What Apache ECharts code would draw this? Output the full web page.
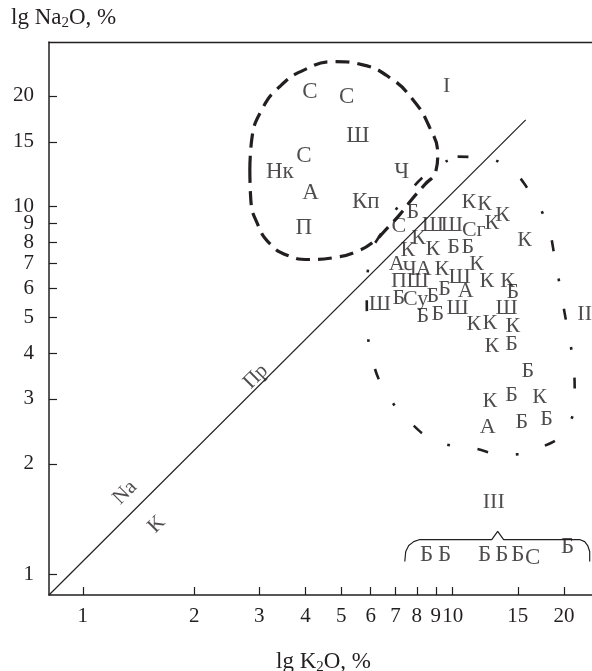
<!DOCTYPE html>
<html><head><meta charset="utf-8">
<script src="https://cdn.jsdelivr.net/npm/echarts@6/dist/echarts.min.js"></script>
<style>html,body{margin:0;padding:0;background:#fff}#c{width:592px;height:671px}</style>
</head><body><div id="c"></div>
<script>
// Tick values (log axes)
const xTicks = [1, 2, 3, 4, 5, 6, 7, 8, 9, 10, 15, 20];
const yTicks = [1, 2, 3, 4, 5, 6, 7, 8, 9, 10, 15, 20];

// [K2O %, Na2O %, code]
const groupI = [
  [4.11, 20.5, 'С'], [5.17, 19.8, 'С'], [5.54, 15.6, 'Ш'], [3.96, 13.7, 'С'],
  [3.41, 12.4, 'Нк'], [4.13, 10.9, 'А'], [5.82, 10.3, 'Кп'], [3.96, 8.77, 'П'],
  [7.28, 12.4, 'Ч']
];
const groupII = [
  [7.80, 9.63, 'Б'], [7.15, 8.83, 'С'], [8.83, 8.88, 'Ш'], [9.94, 8.88, 'Ш'],
  [11.40, 8.61, 'Сг'], [8.09, 8.18, 'К'], [7.56, 7.60, 'К'], [8.83, 7.64, 'К'],
  [10.06, 7.74, 'Б'], [10.98, 7.74, 'Б'], [7.06, 6.96, 'А'], [7.65, 6.74, 'Ч'],
  [8.35, 6.74, 'А'], [9.34, 6.74, 'К'], [11.61, 6.96, 'К'], [7.15, 6.26, 'П'],
  [8.04, 6.26, 'Ш'], [10.44, 6.41, 'Ш'], [9.51, 5.95, 'Б'], [10.84, 5.88, 'А'],
  [12.36, 6.26, 'К'], [14.08, 6.26, 'К'], [14.53, 5.84, 'Б'], [6.35, 5.42, 'Ш'],
  [7.15, 5.62, 'Б'], [7.94, 5.59, 'Су'], [8.83, 5.69, 'Б'], [8.30, 5.02, 'Б'],
  [9.11, 5.09, 'Б'], [10.31, 5.31, 'Ш'], [13.99, 5.28, 'Ш'], [11.40, 4.78, 'К'],
  [12.59, 4.81, 'К'], [14.53, 4.72, 'К'], [12.75, 4.17, 'К'], [14.43, 4.22, 'Б'],
  [11.05, 10.25, 'К'], [12.20, 10.13, 'К'], [12.75, 8.99, 'К'], [13.65, 9.45, 'К'],
  [15.65, 8.08, 'К'], [15.95, 3.56, 'Б'], [14.43, 3.08, 'Б'], [12.59, 2.95, 'К'],
  [17.18, 3.03, 'К'], [12.43, 2.51, 'А'], [15.37, 2.60, 'Б'], [17.95, 2.64, 'Б']
];
const groupIII = [
  [8.50, 1.133, 'Б'], [9.51, 1.133, 'Б'], [12.20, 1.133, 'Б'], [13.57, 1.133, 'Б'],
  [14.99, 1.133, 'Б'], [16.45, 1.112, 'С'], [20.46, 1.19, 'Б']
];
const regionLabels = [[9.63, 21.2, 'I'], [22.74, 5.09, 'II'], [12.91, 1.57, 'III']];
const lineLabels = [[1.30, 1.67, 'Na'], [1.585, 1.367, 'K'], [2.935, 3.45, 'Пр']];

// Boundary line and contours [K2O, Na2O]
const divideLine = [[0.81, 0.88], [15.75, 17.2]];
const contourI = [
  [2.828, 12.61], [2.862, 15.21], [3.047, 18.34], [3.408, 21.19], [3.981, 23.56],
  [4.799, 24.77], [5.677, 24.31], [6.757, 22.41], [7.797, 19.54], [8.666, 16.39],
  [9.109, 13.85], [8.997, 12.45], [8.401, 11.47], [7.749, 10.45], [7.192, 9.51],
  [6.674, 8.77], [6.116, 8.03], [5.502, 7.55], [4.799, 7.27], [4.108, 7.18],
  [3.582, 7.36], [3.202, 7.93], [2.972, 8.93], [2.845, 10.45], [2.828, 12.61]
];
const contourII = [
  [10.31, 13.67], [11.83, 13.59], [14.08, 12.76], [16.15, 10.98], [17.95, 8.99],
  [18.87, 7.31], [19.59, 5.88], [20.33, 4.78], [21.10, 3.84], [21.37, 3.08],
  [20.33, 2.51], [17.18, 2.21], [13.91, 2.12], [11.26, 2.21], [9.109, 2.30],
  [7.653, 2.60], [6.674, 3.08], [6.078, 3.79], [5.892, 4.69], [5.856, 5.77],
  [5.966, 7.18], [6.55, 8.77], [7.373, 10.45], [8.666, 12.45], [10.31, 13.67]
];
const brace = [
  [7.42, 1.085], [7.464, 1.155], [7.605, 1.199], [7.846, 1.229], [8.144, 1.245],
  [12.75, 1.245], [13.23, 1.31], [13.73, 1.245], [22.03, 1.245], [22.74, 1.229],
  [23.17, 1.199], [23.46, 1.155], [23.46, 1.085]
];

const FONT = 'Liberation Serif, Times New Roman, serif';
const INK = '#231f20';

function textSeries(arr, size, rotate) {
  return {
    type: 'scatter', symbolSize: 1, silent: true, z: 5,
    itemStyle: { color: 'rgba(0,0,0,0)' },
    data: arr.map(d => ({ value: [d[0], d[1]], name: d[2] })),
    label: {
      show: true, position: 'inside', formatter: p => p.name,
      fontFamily: FONT, fontSize: size, color: INK, rotate: rotate || 0
    },
    labelLayout: { hideOverlap: false }
  };
}

const chart = echarts.init(document.getElementById('c'), null, { renderer: 'canvas' });
chart.setOption({
  backgroundColor: '#fff',
  animation: false,
  grid: { left: 49, top: 42, right: 0, bottom: 76, containLabel: false },
  xAxis: [{
    type: 'log', min: 0.81, max: 23.8, splitLine: { show: false },
    axisLine: { lineStyle: { color: INK, width: 1.5 } },
    axisTick: { inside: true, length: 8, customValues: xTicks, lineStyle: { color: INK, width: 1.2 } },
    axisLabel: { customValues: xTicks, margin: 11, fontFamily: FONT, fontSize: 21, color: INK }
  }, {
    type: 'log', position: 'top', min: 0.81, max: 23.8, splitLine: { show: false },
    axisLine: { lineStyle: { color: INK, width: 1.3 } },
    axisTick: { show: false }, axisLabel: { show: false }
  }],
  yAxis: {
    type: 'log', min: 0.88, max: 28, splitLine: { show: false },
    axisLine: { lineStyle: { color: INK, width: 1.5 } },
    axisTick: { inside: true, length: 8, customValues: yTicks, lineStyle: { color: INK, width: 1.2 } },
    axisLabel: { customValues: yTicks, margin: 15, fontFamily: FONT, fontSize: 21, color: INK }
  },
  graphic: [
    { type: 'text', left: 11, top: 6, style: {
      text: '{a|lg Na}{s|2}{a|O, %}', rich: {
        a: { fontFamily: FONT, fontSize: 23, fill: INK },
        s: { fontFamily: FONT, fontSize: 15, fill: INK, padding: [11, 0, 0, 0] } } } },
    { type: 'text', left: 276, top: 650, style: {
      text: '{a|lg K}{s|2}{a|O, %}', rich: {
        a: { fontFamily: FONT, fontSize: 23, fill: INK },
        s: { fontFamily: FONT, fontSize: 15, fill: INK, padding: [11, 0, 0, 0] } } } }
  ],
  series: [
    { type: 'line', data: divideLine, symbol: 'none', silent: true,
      lineStyle: { color: INK, width: 1.2 } },
    { type: 'line', data: contourI, symbol: 'none', silent: true, smooth: 0.5,
      lineStyle: { color: INK, width: 3.2, type: [14, 8] } },
    { type: 'line', data: contourII, symbol: 'none', silent: true, smooth: 0.5,
      lineStyle: { color: INK, width: 2.6, type: [11, 28, 2.6, 28] } },
    { type: 'line', data: brace, symbol: 'none', silent: true,
      lineStyle: { color: INK, width: 1.2 } },
    textSeries(groupI, 23),
    textSeries(groupII, 22),
    textSeries(groupIII, 23),
    textSeries(regionLabels, 22),
    textSeries(lineLabels, 21, 45)
  ]
});
</script>
</body></html>
